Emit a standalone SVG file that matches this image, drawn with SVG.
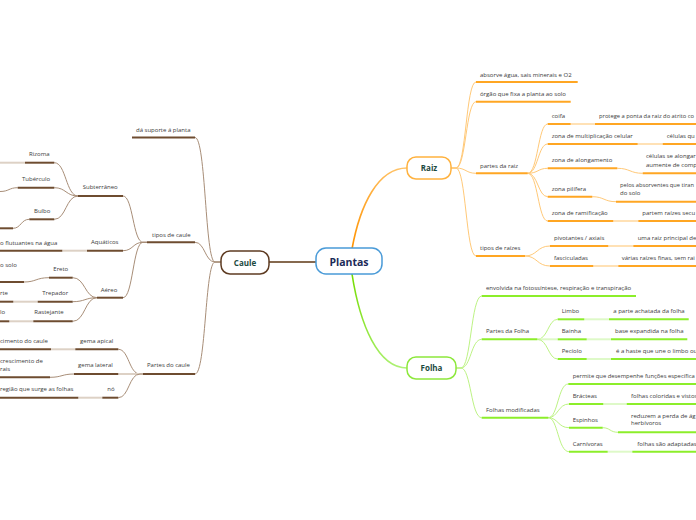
<svg xmlns="http://www.w3.org/2000/svg" width="696" height="520" viewBox="0 0 696 520">
<defs>
<style>
.t{font-family:"Open Sans","DejaVu Sans",sans-serif;font-size:6px;fill:#3a3a3a}
.n{font-family:"Open Sans","DejaVu Sans",sans-serif;font-weight:bold;text-anchor:middle}
.ub{stroke:#6e4c30;stroke-width:2;fill:none}
.cb{stroke:#a88e78;stroke-width:1;fill:none}
.fb{stroke:#ddd1c5;stroke-width:2;fill:none}
.uo{stroke:#ffa623;stroke-width:2;fill:none}
.co{stroke:#ffc978;stroke-width:1;fill:none}
.fo{stroke:#ffe1b5;stroke-width:2;fill:none}
.ug{stroke:#8cee2a;stroke-width:2;fill:none}
.cg{stroke:#bdf384;stroke-width:1;fill:none}
.fg{stroke:#def9c8;stroke-width:2;fill:none}
</style>
<linearGradient id="gr" gradientUnits="userSpaceOnUse" x1="352" y1="249" x2="407" y2="168">
<stop offset="0" stop-color="#ff9200"/><stop offset="1" stop-color="#ffc46a"/>
</linearGradient>
<linearGradient id="gf" gradientUnits="userSpaceOnUse" x1="352" y1="274" x2="407" y2="368">
<stop offset="0" stop-color="#74dc00"/><stop offset="1" stop-color="#b0f27a"/>
</linearGradient>
</defs>
<rect width="696" height="520" fill="#fff"/>

<g id="connectors">
<path d="M269,262 L316,262" stroke="#86694f" stroke-width="2" fill="none"/>
<path d="M352,249 C360,205 378,168 407,168" stroke="url(#gr)" stroke-width="1.6" fill="none"/>
<path d="M352,274 C360,325 378,368 407,368" stroke="url(#gf)" stroke-width="1.6" fill="none"/>

<path class="cb" d="M221,262 L215,262 C205,262 206,137.5 195,137.5"/>
<path class="cb" d="M221,262 L215,262 C205,262 205,242.3 195,242.3"/>
<path class="cb" d="M221,262 L215,262 C205,262 206,374 195,374"/>
<path class="cb" d="M147,242.3 L143,242.3 C133,242.3 133,196 123,196"/>
<path class="cb" d="M147,242.3 L143,242.3 C133,242.3 133,250.7 123,250.7"/>
<path class="cb" d="M147,242.3 L143,242.3 C133,242.3 133,297.7 123,297.7"/>
<path class="cb" d="M143,374 L140,374 C129,374 129,349.3 118.3,349.3"/>
<path class="fb" d="M143,374 L118.3,374"/>
<path class="cb" d="M143,374 L140,374 C129,374 129,397.7 118.3,397.7"/>
<path class="cb" d="M78,196 C66,196 66,162.7 54.3,162.7"/>
<path class="cb" d="M78,196 C66,196 66,187.7 54.3,187.7"/>
<path class="cb" d="M78,196 C66,196 66,219.3 54.3,219.3"/>
<path class="cb" d="M97,297.7 C85,297.7 85,277.7 72.7,277.7"/>
<path class="cb" d="M97,297.7 C85,297.7 85,301.7 72.7,301.7"/>
<path class="cb" d="M97,297.7 C85,297.7 85,321.3 72.7,321.3"/>
<path class="fb" d="M25,162.7 L0,162.7"/>
<path class="cb" d="M17.7,187.7 C9,187.7 9,191.5 0,191.5"/>
<path class="cb" d="M29.3,219.3 C21,219.3 21,228.3 13,228.3"/>
<path class="fb" d="M87,250.7 L62.3,250.7"/>
<path class="cb" d="M49,277.7 C36,277.7 36,282 24,282"/>
<path class="fb" d="M37.7,301.7 L13.3,301.7"/>
<path class="fb" d="M33.3,321.3 L9.3,321.3"/>
<path class="fb" d="M75.3,349.3 L51,349.3"/>
<path class="cb" d="M74,374 C62,374 62,377.3 50,377.3"/>
<path class="fb" d="M102.3,397.7 L78.3,397.7"/>

<path class="co" d="M451,168 L456,168 C466,168 466,82 476,82"/>
<path class="co" d="M451,168 L456,168 C466,168 466,101.7 476,101.7"/>
<path class="co" d="M451,168 L456,168 C466,168 466,173.3 476,173.3"/>
<path class="co" d="M451,168 L456,168 C466,168 466,256 476,256"/>
<path class="co" d="M527.7,173.3 C538,173.3 538,124 547.7,124"/>
<path class="co" d="M527.7,173.3 C538,173.3 538,144 547.7,144"/>
<path class="co" d="M527.7,173.3 C538,173.3 538,168.3 547.7,168.3"/>
<path class="co" d="M527.7,173.3 C538,173.3 538,196.7 547.7,196.7"/>
<path class="co" d="M527.7,173.3 C538,173.3 538,221 547.7,221"/>
<path class="co" d="M525,256 C537,256 537,246 550,246"/>
<path class="co" d="M525,256 C537,256 537,266 550,266"/>
<path class="fo" d="M570.7,124 L595,124"/>
<path class="fo" d="M637.7,144 L662.7,144"/>
<path class="co" d="M617.3,168.3 C630,168.3 630,173.3 642.7,173.3"/>
<path class="co" d="M592.3,196.7 C604,196.7 604,201.7 616,201.7"/>
<path class="fo" d="M613.3,221 L638.3,221"/>
<path class="fo" d="M608.3,246 L633.3,246"/>
<path class="fo" d="M593.3,266 L618.3,266"/>

<path class="cg" d="M456,368 L461,368 C471,368 471,296 481.7,296"/>
<path class="cg" d="M456,368 L461,368 C471,368 471,339.3 481.7,339.3"/>
<path class="cg" d="M456,368 L461,368 C471,368 471,417.7 481.7,417.7"/>
<path class="cg" d="M537.3,339.3 C548,339.3 548,319.3 557.7,319.3"/>
<path class="fg" d="M537.3,339.3 L557.7,339.3"/>
<path class="cg" d="M537.3,339.3 C548,339.3 548,359 557.7,359"/>
<path class="cg" d="M548.3,417.7 C558,417.7 558,384 568.3,384"/>
<path class="cg" d="M548.3,417.7 C558,417.7 558,404 569,404"/>
<path class="cg" d="M548.3,417.7 C558,417.7 558,427.7 569,427.7"/>
<path class="cg" d="M548.3,417.7 C558,417.7 558,451.7 569,451.7"/>
<path class="fg" d="M584.3,319.3 L609,319.3"/>
<path class="fg" d="M586.7,339.3 L611,339.3"/>
<path class="fg" d="M586.7,359 L611,359"/>
<path class="fg" d="M603.3,404 L626.7,404"/>
<path class="cg" d="M602.7,427.7 C610,427.7 610,432.3 618,432.3"/>
<path class="fg" d="M607.7,451.7 L632.3,451.7"/>
</g>

<g id="plantas">
<rect x="316" y="248" width="66" height="26" rx="10" fill="#fff" stroke="#4a9bd8" stroke-width="1.5"/>
<text class="n" x="349" y="265.5" font-size="10.5" fill="#1b2b58">Plantas</text>
</g>
<g id="caule">
<rect x="221" y="251" width="48" height="23" rx="9" fill="#fff" stroke="#5e3b22" stroke-width="1.5"/>
<text class="n" x="245" y="265.5" font-size="8" fill="#1d4b3f">Caule</text>
</g>
<g id="raiz">
<rect x="407" y="157" width="44" height="22" rx="9" fill="#fff" stroke="#ffb23f" stroke-width="1.5"/>
<text class="n" x="429" y="171" font-size="8" fill="#1d4b3f">Raiz</text>
</g>
<g id="folha">
<rect x="407" y="357" width="49" height="22" rx="9" fill="#fff" stroke="#8de83c" stroke-width="1.5"/>
<text class="n" x="431.5" y="371" font-size="8" fill="#1d4b3f">Folha</text>
</g>

<g id="suporte"><path class="ub" d="M132,137.5 H195"/><text class="t" x="136" y="131.5">dá suporte á planta</text></g>
<g id="tipos-caule"><path class="ub" d="M147,242.3 H195"/><text class="t" x="152" y="236.7">tipos de caule</text></g>
<g id="partes-caule"><path class="ub" d="M143,374 H195"/><text class="t" x="147" y="367.3">Partes do caule</text></g>
<g id="subterraneo"><path class="ub" d="M78,196 H123"/><text class="t" x="82.7" y="189">Subterrâneo</text></g>
<g id="aquaticos"><path class="ub" d="M87,250.7 H123"/><text class="t" x="91" y="244">Aquáticos</text></g>
<g id="aereo"><path class="ub" d="M97,297.7 H123"/><text class="t" x="100.7" y="291.7">Aéreo</text></g>
<g id="rizoma"><path class="ub" d="M25,162.7 H54.3"/><text class="t" x="29" y="156">Rizoma</text></g>
<g id="tuberculo"><path class="ub" d="M17.7,187.7 H54.3"/><text class="t" x="22" y="181.3">Tubérculo</text></g>
<g id="bulbo"><path class="ub" d="M29.3,219.3 H54.3"/><text class="t" x="34" y="212.7">Bulbo</text></g>
<g id="bulbo-c"><path class="ub" d="M0,228.3 H13"/></g>
<g id="aquaticos-c"><path class="ub" d="M0,250.7 H62.3"/><text class="t" x="0" y="244.7">o flutuantes na água</text></g>
<g id="ereto"><path class="ub" d="M49,277.7 H72.7"/><text class="t" x="53.3" y="271">Ereto</text></g>
<g id="ereto-c"><path class="ub" d="M0,282 H24"/><text class="t" x="0" y="266.7">o solo</text></g>
<g id="trepador"><path class="ub" d="M37.7,301.7 H72.7"/><text class="t" x="42.3" y="295">Trepador</text></g>
<g id="trepador-c"><path class="ub" d="M0,301.7 H13.3"/><text class="t" x="0" y="295">rte</text></g>
<g id="rastejante"><path class="ub" d="M33.3,321.3 H72.7"/><text class="t" x="34.3" y="314.3">Rastejante</text></g>
<g id="rastejante-c"><path class="ub" d="M0,321.3 H9.3"/><text class="t" x="0" y="314.3">lo</text></g>
<g id="gema-apical"><path class="ub" d="M75.3,349.3 H118.3"/><text class="t" x="80" y="342.7">gema apical</text></g>
<g id="gema-apical-c"><path class="ub" d="M0,349.3 H51"/><text class="t" x="0" y="342.7">cimento do caule</text></g>
<g id="gema-lateral"><path class="ub" d="M74,374 H118.3"/><text class="t" x="78" y="367.3">gema lateral</text></g>
<g id="gema-lateral-c"><path class="ub" d="M0,377.3 H50"/><text class="t" x="0" y="363.3">crescimento de</text><text class="t" x="0" y="370.7">rais</text></g>
<g id="no"><path class="ub" d="M102.3,397.7 H118.3"/><text class="t" x="107.3" y="390.7">nó</text></g>
<g id="no-c"><path class="ub" d="M0,397.7 H78.3"/><text class="t" x="0" y="390.7">região que surge as folhas</text></g>

<g id="absorve"><path class="uo" d="M476,82 H577.7"/><text class="t" x="480" y="76.7">absorve água, sais minerais e O2</text></g>
<g id="orgao"><path class="uo" d="M476,101.7 H570.7"/><text class="t" x="480" y="96">órgão que fixa a planta ao solo</text></g>
<g id="partes-raiz"><path class="uo" d="M476,173.3 H527.7"/><text class="t" x="480" y="167.7">partes da raiz</text></g>
<g id="tipos-raizes"><path class="uo" d="M476,256 H525"/><text class="t" x="480" y="250">tipos de raízes</text></g>
<g id="coifa"><path class="uo" d="M547.7,124 H570.7"/><text class="t" x="551.7" y="118.3">coifa</text></g>
<g id="coifa-c"><path class="uo" d="M595,124 H696"/><text class="t" x="599" y="118.3" textLength="95" lengthAdjust="spacingAndGlyphs">protege a ponta da raiz do atrito co</text></g>
<g id="multiplicacao"><path class="uo" d="M547.7,144 H637.7"/><text class="t" x="551.7" y="138">zona de multiplicação celular</text></g>
<g id="multiplicacao-c"><path class="uo" d="M662.7,144 H696"/><text class="t" x="666.7" y="138">células qu</text></g>
<g id="alongamento"><path class="uo" d="M547.7,168.3 H617.3"/><text class="t" x="551.7" y="161.7">zona de alongamento</text></g>
<g id="alongamento-c"><path class="uo" d="M642.7,173.3 H696"/><text class="t" x="646" y="157.7">células se alongar</text><text class="t" x="646" y="166.7">aumente de comp</text></g>
<g id="pilifera"><path class="uo" d="M547.7,196.7 H592.3"/><text class="t" x="551.7" y="191">zona pilífera</text></g>
<g id="pilifera-c"><path class="uo" d="M616,201.7 H696"/><text class="t" x="620" y="186.7" textLength="74" lengthAdjust="spacingAndGlyphs">pelos absorventes que tiran</text><text class="t" x="620" y="195">do solo</text></g>
<g id="ramificacao"><path class="uo" d="M547.7,221 H613.3"/><text class="t" x="551.7" y="215">zona de ramificação</text></g>
<g id="ramificacao-c"><path class="uo" d="M638.3,221 H696"/><text class="t" x="642.3" y="215">partem raízes secu</text></g>
<g id="pivotantes"><path class="uo" d="M550,246 H608.3"/><text class="t" x="554" y="240">pivotantes / axiais</text></g>
<g id="pivotantes-c"><path class="uo" d="M633.3,246 H696"/><text class="t" x="637.7" y="240">uma raiz principal de</text></g>
<g id="fasciculadas"><path class="uo" d="M550,266 H593.3"/><text class="t" x="554" y="260">fasciculadas</text></g>
<g id="fasciculadas-c"><path class="uo" d="M618.3,266 H696"/><text class="t" x="621.7" y="260">várias raízes finas, sem rai</text></g>

<g id="envolvida"><path class="ug" d="M481.7,296 H636"/><text class="t" x="486" y="290">envolvida na fotossíntese, respiração e transpiração</text></g>
<g id="partes-folha"><path class="ug" d="M481.7,339.3 H537.3"/><text class="t" x="486" y="333.3">Partes da Folha</text></g>
<g id="folhas-mod"><path class="ug" d="M481.7,417.7 H548.3"/><text class="t" x="486" y="412.3">Folhas modificadas</text></g>
<g id="limbo"><path class="ug" d="M557.7,319.3 H584.3"/><text class="t" x="561.7" y="313.3">Limbo</text></g>
<g id="limbo-c"><path class="ug" d="M609,319.3 H688.7"/><text class="t" x="613.3" y="313.3">a parte achatada da folha</text></g>
<g id="bainha"><path class="ug" d="M557.7,339.3 H586.7"/><text class="t" x="561.7" y="333.3">Bainha</text></g>
<g id="bainha-c"><path class="ug" d="M611,339.3 H687.3"/><text class="t" x="615" y="333.3">base expandida na folha</text></g>
<g id="peciolo"><path class="ug" d="M557.7,359 H586.7"/><text class="t" x="561.7" y="353.3">Pecíolo</text></g>
<g id="peciolo-c"><path class="ug" d="M611,359 H696"/><text class="t" x="616" y="353.3">é a haste que une o limbo ou</text></g>
<g id="permite"><path class="ug" d="M568.3,384 H696"/><text class="t" x="572.7" y="377.7" textLength="122" lengthAdjust="spacingAndGlyphs">permite que desempenhe funções específica</text></g>
<g id="bracteas"><path class="ug" d="M569,404 H603.3"/><text class="t" x="572.7" y="398.3">Brácteas</text></g>
<g id="bracteas-c"><path class="ug" d="M626.7,404 H696"/><text class="t" x="631" y="398.3">folhas coloridas e vistos</text></g>
<g id="espinhos"><path class="ug" d="M569,427.7 H602.7"/><text class="t" x="572.7" y="422.3">Espinhos</text></g>
<g id="espinhos-c"><path class="ug" d="M618,432.3 H696"/><text class="t" x="631" y="417.7">reduzem a perda de ág</text><text class="t" x="631" y="425">herbívoros</text></g>
<g id="carnivoras"><path class="ug" d="M569,451.7 H607.7"/><text class="t" x="572.7" y="445.7">Carnívoras</text></g>
<g id="carnivoras-c"><path class="ug" d="M632.3,451.7 H696"/><text class="t" x="637.3" y="445.7">folhas são adaptadas</text></g>
</svg>
